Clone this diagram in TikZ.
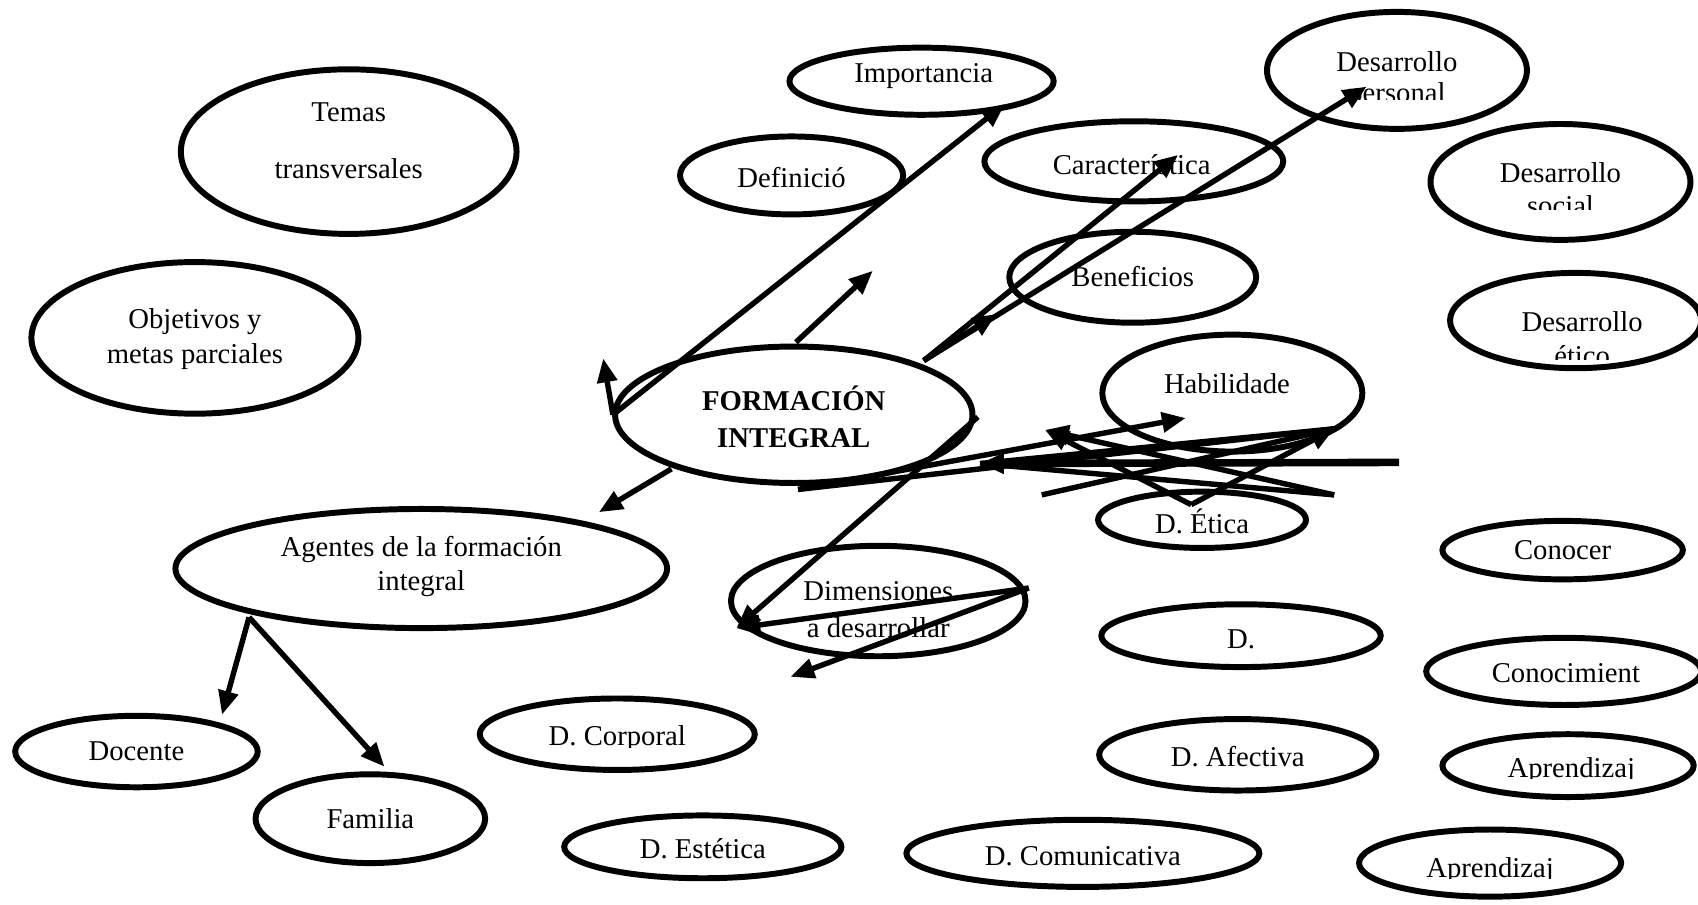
\documentclass[tikz,border=0pt]{standalone}
\usepackage{fontspec}
\setmainfont{Liberation Serif}
\usetikzlibrary{shapes.geometric,arrows.meta}
\begin{document}
\begin{tikzpicture}[x=1pt,y=-1pt,
  ell/.style={draw, ellipse, line width=5.5pt, inner sep=0pt},
  txt/.style={inner sep=0pt, align=center, font=\fontsize{26.5}{32}\selectfont},
  arr/.style={line width=5pt, -{Triangle[length=22pt,width=18pt]}},
  ln/.style={line width=5pt}]
\useasboundingbox (0,0) rectangle (1568,835);

% ellipses
\node[ell, minimum width=310pt, minimum height=152pt] (temas) at (322,140) {};
\node[ell, minimum width=302pt, minimum height=140pt] (objetivos) at (180,312) {};
\node[ell, minimum width=244pt, minimum height=62pt] (importancia) at (851,75) {};
\node[ell, minimum width=206pt, minimum height=72pt] (definicio) at (731,162) {};
\node[ell, minimum width=276pt, minimum height=74pt] (caract) at (1047,149) {};
\node[ell, minimum width=240pt, minimum height=108pt] (despers) at (1290,65) {};
\node[ell, minimum width=240pt, minimum height=107pt] (dessoc) at (1441,168) {};
\node[ell, minimum width=232pt, minimum height=88pt] (deset) at (1455,296) {};
\node[ell, minimum width=228pt, minimum height=84pt] (benef) at (1046,256) {};
\node[ell, minimum width=330pt, minimum height=126pt] (fi) at (733,383) {};
\node[ell, minimum width=240pt, minimum height=108pt] (habil) at (1138,363) {};
\node[ell, minimum width=192pt, minimum height=52pt] (detica) at (1110,480) {};
\node[ell, minimum width=454pt, minimum height=110pt] (agentes) at (389,525) {};
\node[ell, minimum width=272pt, minimum height=102pt] (dimen) at (811,555) {};
\node[ell, minimum width=258pt, minimum height=58pt] (dblank) at (1146,587) {};
\node[ell, minimum width=222pt, minimum height=54pt] (conocer) at (1443,508) {};
\node[ell, minimum width=254pt, minimum height=62pt] (conocim) at (1444,620) {};
\node[ell, minimum width=254pt, minimum height=66pt] (dcorp) at (570,678) {};
\node[ell, minimum width=256pt, minimum height=66pt] (dafec) at (1143,697) {};
\node[ell, minimum width=232pt, minimum height=58pt] (aprenda) at (1448,707) {};
\node[ell, minimum width=224pt, minimum height=66pt] (docente) at (126,694) {};
\node[ell, minimum width=212pt, minimum height=82pt] (familia) at (342,756) {};
\node[ell, minimum width=256pt, minimum height=58pt] (destet) at (649,782) {};
\node[ell, minimum width=326pt, minimum height=62pt] (dcomun) at (1000,788) {};
\node[ell, minimum width=242pt, minimum height=62pt] (aprendb) at (1376,797) {};

% texts
\node[txt] (tTemas) at (322,104) {Temas};
\node[txt] (tTransv) at (322,156) {transversales};
\node[txt] (tObj) at (180,313) {Objetivos y\\metas parciales};
\node[txt] (tImp) at (853,70) {Importancia};
\node[txt] (tDef) at (731,164) {Definició};
\node[txt] (tCar) at (1045,152) {Característica};
\node[txt] (tDesP) at (1290,57) {Desarrollo};
\begin{scope}\clip (1150,0) rectangle (1430,92);
\node[txt] (tDesP2) at (1290,88) {personal};
\end{scope}
\node[txt] (tDesS) at (1441,159) {Desarrollo};
\begin{scope}\clip (1300,170) rectangle (1568,193);
\node[txt] (tDesS2) at (1441,190) {social};
\end{scope}
\node[txt] (tDesE) at (1461,297) {Desarrollo};
\begin{scope}\clip (1320,310) rectangle (1568,332);
\node[txt] (tDesE2) at (1461,328) {ético};
\end{scope}
\node[txt] (tBen) at (1046,255) {Beneficios};
\node[txt, font=\fontsize{26.5}{34}\selectfont\bfseries] (tFI) at (733,385) {FORMACIÓN\\INTEGRAL};
\node[txt] (tHab) at (1133,354) {Habilidade};
\node[txt] (tEtica) at (1110,481) {D. Ética};
\node[txt] (tAg) at (389,523) {Agentes de la formación\\integral};
\node[txt, font=\fontsize{26.5}{35}\selectfont] (tDim) at (811,563) {Dimensiones\\a desarrollar};
\node[txt] (tD) at (1146,590) {D.};
\node[txt] (tCon) at (1443,508) {Conocer};
\node[txt] (tConm) at (1446,622) {Conocimient};
\begin{scope}\clip (440,650) rectangle (700,690);
\node[txt] (tCorp) at (570,682) {D. Corporal};
\end{scope}
\node[txt] (tAfec) at (1143,699) {D. Afectiva};
\begin{scope}\clip (1330,690) rectangle (1568,719);
\node[txt] (tApA) at (1451,712) {Aprendizaj};
\end{scope}
\node[txt] (tDoc) at (126,694) {Docente};
\node[txt] (tFam) at (342,756) {Familia};
\node[txt] (tEst) at (649,784) {D. Estética};
\node[txt] (tCom) at (1000,791) {D. Comunicativa};
\begin{scope}\clip (1260,780) rectangle (1500,811);
\node[txt] (tApB) at (1376,804) {Aprendizaj};
\end{scope}

% connector points
\coordinate (fiL) at (566,383);
\coordinate (a1e) at (928,96);
\coordinate (fiT) at (735,316);
\coordinate (a2e) at (806,250);
\coordinate (a3e) at (557,331);
\coordinate (fiUR) at (853,333);
\coordinate (a4e) at (1088,143);
\coordinate (a5e) at (1262,80);
\coordinate (a6e) at (920,290);
\coordinate (fiBL) at (620,433);
\coordinate (a7e) at (553,473);
\coordinate (agB) at (230,570);
\coordinate (a8e) at (205,660);
\coordinate (a9e) at (355,708);
\coordinate (fiR) at (903,385);
\coordinate (dimL) at (680,580);
\coordinate (dimR) at (950,543);
\coordinate (a12e) at (730,625);
\coordinate (t1s) at (737,452);
\coordinate (t1e) at (1095,386);
\coordinate (t2s) at (1292,427);
\coordinate (t2e) at (905,428);
\coordinate (t3s) at (1232,457);
\coordinate (t3e) at (965,397);
\coordinate (tv) at (1100,466);
\coordinate (t4e) at (1232,396);
\coordinate (t5s) at (962,457);

% connectors
\draw[arr] (fiL) -- (a1e);
\draw[arr] (fiT) -- (a2e);
\draw[arr] (fiL) -- (a3e);
\draw[arr] (fiUR) -- (a4e);
\draw[arr] (fiUR) -- (a5e);
\draw[arr] (fiUR) -- (a6e);
\draw[arr] (fiBL) -- (a7e);
\draw[arr] (agB) -- (a8e);
\draw[arr] (agB) -- (a9e);
\draw[arr] (fiR) -- (dimL);
\draw[arr] (dimR) -- (dimL);
\draw[arr] (dimR) -- (a12e);
\draw[arr] (t1s) -- (t1e);
\draw[ln] (t1s) -- (t4e);
\draw[arr, line width=7pt] (t2s) -- (t2e);
\draw[arr] (t3s) -- (t3e);
\draw[arr] (tv) -- (t3e);
\draw[arr] (tv) -- (t4e);
\draw[ln] (t5s) -- (t4e);
\draw[ln] (t4e) -- (t2e);
\draw[ln] (t3s) -- (t2e);
\end{tikzpicture}
\end{document}
